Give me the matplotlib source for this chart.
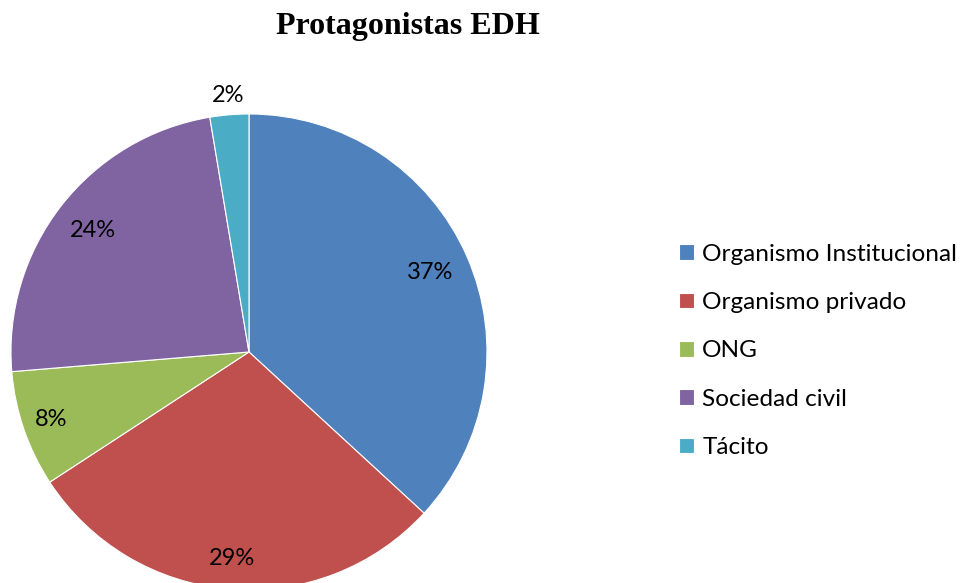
import numpy as np
import matplotlib.pyplot as plt

categories = ["Organismo Institucional", "Organismo privado", "ONG", "Sociedad civil", "Tácito"]
values = [14, 11, 3, 9, 1]
pct_labels = ["37%", "29%", "8%", "24%", "2%"]
colors = ["#4F81BD", "#C0504D", "#9BBB59", "#8064A2", "#4BACC6"]
label_r = [0.83, 0.87, 0.88, 0.83, 1.08]

fig = plt.figure(figsize=(9.63, 5.83), dpi=100)

# pie axes placed so the circle sits where it does in the reference
ax = fig.add_axes([0.0114, -0.012, 0.4943, 0.8165])
wedges, _ = ax.pie(values, colors=colors, startangle=90, counterclock=False,
                   wedgeprops=dict(edgecolor="white", linewidth=0.8))
ax.set_xlim(-1, 1)
ax.set_ylim(-1, 1)
ax.set_aspect("equal")
ax.axis("off")

for w, txt, r in zip(wedges, pct_labels, label_r):
    mid = np.deg2rad((w.theta1 + w.theta2) / 2)
    ax.text(r * np.cos(mid), r * np.sin(mid), txt, ha="center", va="center",
            fontsize=17, family="Lato", clip_on=False)

fig.text(0.424, 0.955, "Protagonistas EDH", ha="center", va="center",
         fontsize=23, fontweight="bold", family="Liberation Serif")

fig.legend(wedges, categories, loc="center left", bbox_to_anchor=(0.705, 0.398),
           frameon=False, prop=dict(family="Lato", size=17.6),
           handlelength=0.6, handleheight=0.6, handletextpad=0.35, labelspacing=1.12,
           borderaxespad=0, borderpad=0)

fig.savefig("out.png", dpi=100)
